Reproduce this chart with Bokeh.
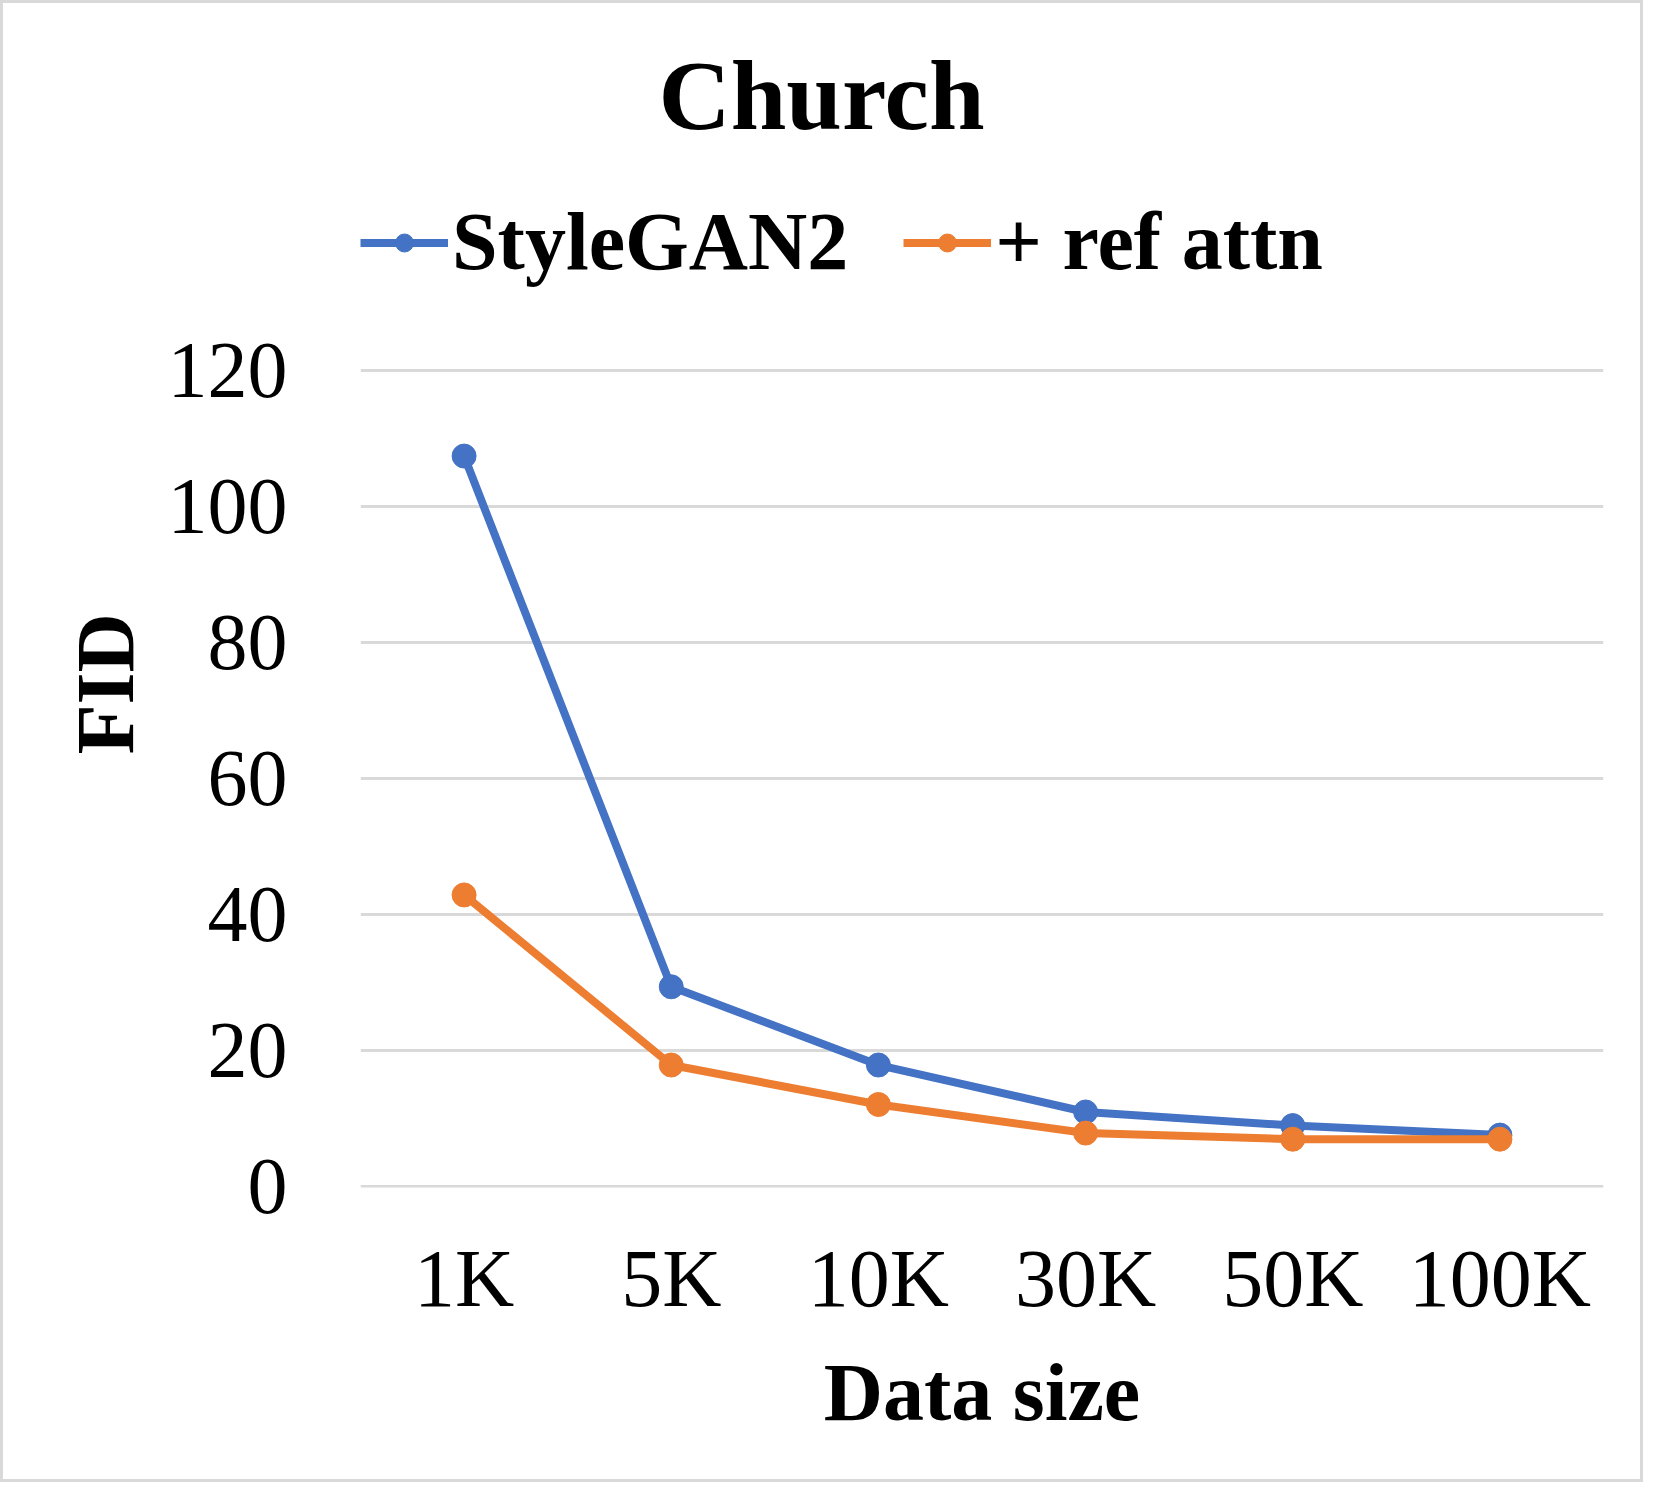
from bokeh.plotting import figure
from bokeh.models import Range1d, FixedTicker, Div
from bokeh.layouts import column
from bokeh.embed import file_html
from bokeh.resources import INLINE

categories = ["1K", "5K", "10K", "30K", "50K", "100K"]
stylegan2 = [107.4, 29.4, 17.9, 11.0, 9.0, 7.6]
ref_attn = [42.9, 17.9, 12.1, 7.9, 7.0, 7.0]
y_ticks = [0, 20, 40, 60, 80, 100, 120]
series_names = ["StyleGAN2", "+ ref attn"]
chart_title = "Church"

BLUE = "#4472C4"
ORANGE = "#ED7D31"
GRID = "#D9D9D9"
FONT = "Liberation Serif"

W = 1643
H = 1482
TITLE_H = 180

title_div = Div(
    text=(
        '<div style="width:%dpx; text-align:center; padding-top:46px; '
        'font-family:\'Liberation Serif\'; font-weight:bold; font-size:100px; '
        'line-height:100px; color:black;">%s</div>' % (W, chart_title)
    ),
    width=W,
    height=TITLE_H,
    margin=0,
)

# y range extends above 120 so that the legend sits inside the (invisible) frame
p = figure(
    x_range=categories,
    y_range=Range1d(-0.1, 147.9),
    width=W,
    height=H - TITLE_H,
    output_backend="svg",
    toolbar_location=None,
    min_border_left=360,
    min_border_right=40,
    min_border_top=0,
    min_border_bottom=295,
)
p.x_range.range_padding = 0
p.outline_line_color = None
p.border_fill_alpha = 0
p.background_fill_alpha = 0

p.line(categories, stylegan2, line_color=BLUE, line_width=8, legend_label=series_names[0])
p.scatter(categories, stylegan2, size=24, fill_color=BLUE, line_color=BLUE, legend_label=series_names[0])
p.line(categories, ref_attn, line_color=ORANGE, line_width=8, legend_label=series_names[1])
p.scatter(categories, ref_attn, size=24, fill_color=ORANGE, line_color=ORANGE, legend_label=series_names[1])

p.xgrid.grid_line_color = None
p.ygrid.grid_line_color = GRID
p.ygrid.grid_line_width = 3
p.yaxis.ticker = FixedTicker(ticks=y_ticks)

for ax in (p.xaxis[0], p.yaxis[0]):
    ax.axis_line_color = None
    ax.major_tick_line_color = None
    ax.minor_tick_line_color = None
    ax.major_label_text_font = FONT
    ax.major_label_text_font_size = "82px"
    ax.major_label_text_color = "black"
    ax.axis_label_text_font = FONT
    ax.axis_label_text_font_style = "bold"
    ax.axis_label_text_font_size = "82px"
    ax.axis_label_text_color = "black"

p.yaxis.major_label_text_font_size = "80px"
p.xaxis.axis_label = "Data size"
p.yaxis.axis_label = "FID"
p.xaxis.major_label_standoff = 39
p.yaxis.major_label_standoff = 67
p.xaxis.axis_label_standoff = 20
p.yaxis.axis_label_standoff = 14

lg = p.legend[0]
lg.orientation = "horizontal"
lg.location = (0, 898)
lg.label_text_font = FONT
lg.label_text_font_style = "bold"
lg.label_text_font_size = "82px"
lg.label_text_color = "black"
lg.glyph_width = 88
lg.glyph_height = 45
lg.label_standoff = 4
lg.spacing = 55
lg.border_line_color = None
lg.background_fill_alpha = 0
lg.padding = 0
lg.margin = 0

layout = column(title_div, p, spacing=0,
                styles={"outline": "3px solid #D9D9D9", "outline-offset": "-3px",
                        "background-color": "white"})

open("out.html", "w").write(file_html(layout, INLINE))
